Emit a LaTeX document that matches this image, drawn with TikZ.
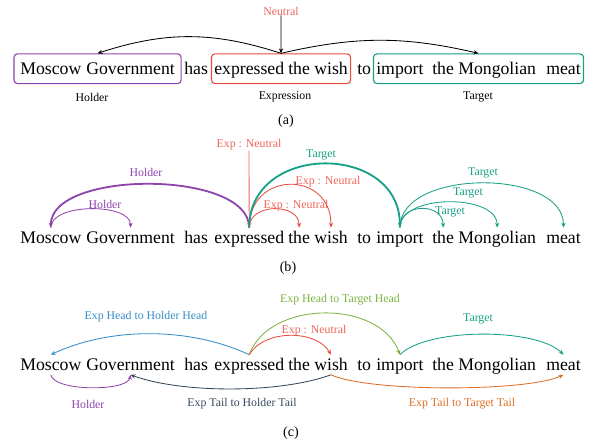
\documentclass[tikz,border=0pt]{standalone}
\usepackage{fontspec}
\setmainfont{Liberation Serif}
\usetikzlibrary{arrows.meta,fit}

\definecolor{holdercol}{RGB}{142,68,173}
\definecolor{exprcol}{RGB}{231,76,60}
\definecolor{neutraltext}{RGB}{238,100,90}
\definecolor{targetcol}{RGB}{22,160,133}
\definecolor{headcol}{RGB}{52,140,200}
\definecolor{greencol}{RGB}{124,179,66}
\definecolor{tailcol}{RGB}{52,73,94}
\definecolor{orangecol}{RGB}{220,110,40}

\tikzset{
    word/.style={anchor=base west, inner sep=0pt, text height=10.7pt,
                 text depth=3.2pt, font=\fontsize{12.6}{15}\selectfont},
    lbl/.style={inner sep=0pt, font=\fontsize{8.4}{10}\selectfont},
    tag/.style={inner sep=0pt, font=\fontsize{10}{12}\selectfont},
    arc/.style={-{Stealth[length=3.5pt,width=3pt]}, line width=0.6pt},
    heavy/.style={arc, line width=1.3pt},
    spanbox/.style={draw, rounded corners=2.5pt, line width=0.8pt, inner ysep=3.4pt},
}

% one sentence, word nodes named <prefix><word>
\newcommand\sentence[2]{%
    \foreach \n/\x/\w in {mos/20/Moscow, gov/86/Government, has/184/has,
            exp/214/expressed, the/288/the, wish/314/wish, to/357/to,
            imp/376/import, thb/432/the, mon/458/Mongolian, meat/546/meat}
        \node[word] (#1\n) at (\x,#2) {\w};%
}

\begin{document}
\begin{tikzpicture}[x=0.025cm,y=0.025cm]
    \useasboundingbox (0,0) rectangle (589,-442);

    % (a) spans
    \sentence{a}{-74}
    \node[spanbox, draw=holdercol, fit=(amos)(agov), inner xsep=4.3pt] (aholder) {};
    \node[spanbox, draw=exprcol, fit=(aexp)(awish), inner xsep=1.8pt] (aexpr) {};
    \node[spanbox, draw=targetcol, fit=(aimp)(ameat), inner xsep=1.8pt] (atarget) {};

    \node[lbl] (aholderlbl) at (92,-97) {Holder};
    \node[lbl] (aexprlbl) at (285,-97) {Expression};
    \node[lbl] (atargetlbl) at (478,-97) {Target};
    \node[lbl, text=neutraltext] (aneu) at (281,-11) {Neutral};

    \draw[arc] (aneu.south) -- (aexpr.north);
    \draw[arc] (aexpr.north) to[bend right=18] (aholder.north);
    \draw[arc] (aexpr.north) to[bend left=13] (atarget.north);
    \node[tag] (atag) at (286,-121) {(a)};

    % (b) arcs above the words
    \sentence{b}{-243}
    \draw[heavy, holdercol] (bexp.north) to[out=90,in=90,looseness=0.75] (bmos.north);
    \draw[arc, holdercol] (bmos.north) to[out=90,in=90,looseness=0.8] (bgov.north);
    \node[lbl, text=holdercol] (bholderA) at (146,-172) {Holder};
    \node[lbl, text=holdercol] (bholderB) at (105,-204) {Holder};

    \node[lbl, text=neutraltext] (bneu) at (249,-145) {Exp : Neutral};
    \draw[arc, neutraltext] (bneu.south) -- (bexp.north);
    \draw[arc, exprcol] (bexp.north) to[out=90,in=90,looseness=1.8] (bwish.north);
    \draw[arc, exprcol] (bexp.north) to[out=90,in=90,looseness=1.28] (bthe.north);
    \node[lbl, text=neutraltext] (bneuA) at (328,-182) {Exp : Neutral};
    \node[lbl, text=neutraltext] (bneuB) at (296,-206) {Exp : Neutral};

    \draw[heavy, targetcol] (bexp.north) to[out=90,in=90,looseness=1.45] (bimp.north);
    \draw[arc, targetcol] (bimp.north) to[out=90,in=90,looseness=1.5] (bthb.north);
    \draw[arc, targetcol] (bimp.north) to[out=90,in=90,looseness=0.9] (bmon.north);
    \draw[arc, targetcol] (bimp.north) to[out=90,in=90,looseness=0.93] (bmeat.north);
    \node[lbl, text=targetcol] (btargetA) at (321,-155) {Target};
    \node[lbl, text=targetcol] (btargetB) at (450,-212) {Target};
    \node[lbl, text=targetcol] (btargetC) at (468,-193) {Target};
    \node[lbl, text=targetcol] (btargetD) at (483,-173) {Target};
    \node[tag] (btag) at (288,-268) {(b)};

    % (c) heads above, tails below
    \sentence{c}{-370}
    \draw[arc, headcol] (cexp.north) to[bend right=25,looseness=0.85] (cmos.north);
    \draw[arc, greencol] (cexp.north) to[out=70,in=110] (cimp.north);
    \draw[arc, exprcol] (cexp.north) to[out=60,in=120,looseness=0.92] (cwish.north);
    \draw[arc, targetcol] (cimp.north) to[out=45,in=135,looseness=0.6] (cmeat.north);
    \node[lbl, text=headcol] (cheadA) at (146,-317) {Exp Head to Holder Head};
    \node[lbl, text=greencol] (cheadB) at (340,-300) {Exp Head to Target Head};
    \node[lbl, text=neutraltext] (cneu) at (314,-331) {Exp : Neutral};
    \node[lbl, text=targetcol] (ctarget) at (478,-319) {Target};

    \draw[arc, holdercol] (cmos.south) to[out=-80,in=-100,looseness=0.55] (cgov.south);
    \draw[arc, tailcol] (cwish.south) to[out=-160,in=-20,looseness=0.7] (cgov.south);
    \draw[arc, orangecol] (cwish.south) to[out=-25,in=-155,looseness=0.45] (cmeat.south);
    \node[lbl, text=holdercol] (cholder) at (88,-404) {Holder};
    \node[lbl, text=tailcol] (ctailA) at (242,-404) {Exp Tail to Holder Tail};
    \node[lbl, text=orangecol] (ctailB) at (462,-404) {Exp Tail to Target Tail};
    \node[tag] (ctag) at (291,-433) {(c)};
\end{tikzpicture}
\end{document}
